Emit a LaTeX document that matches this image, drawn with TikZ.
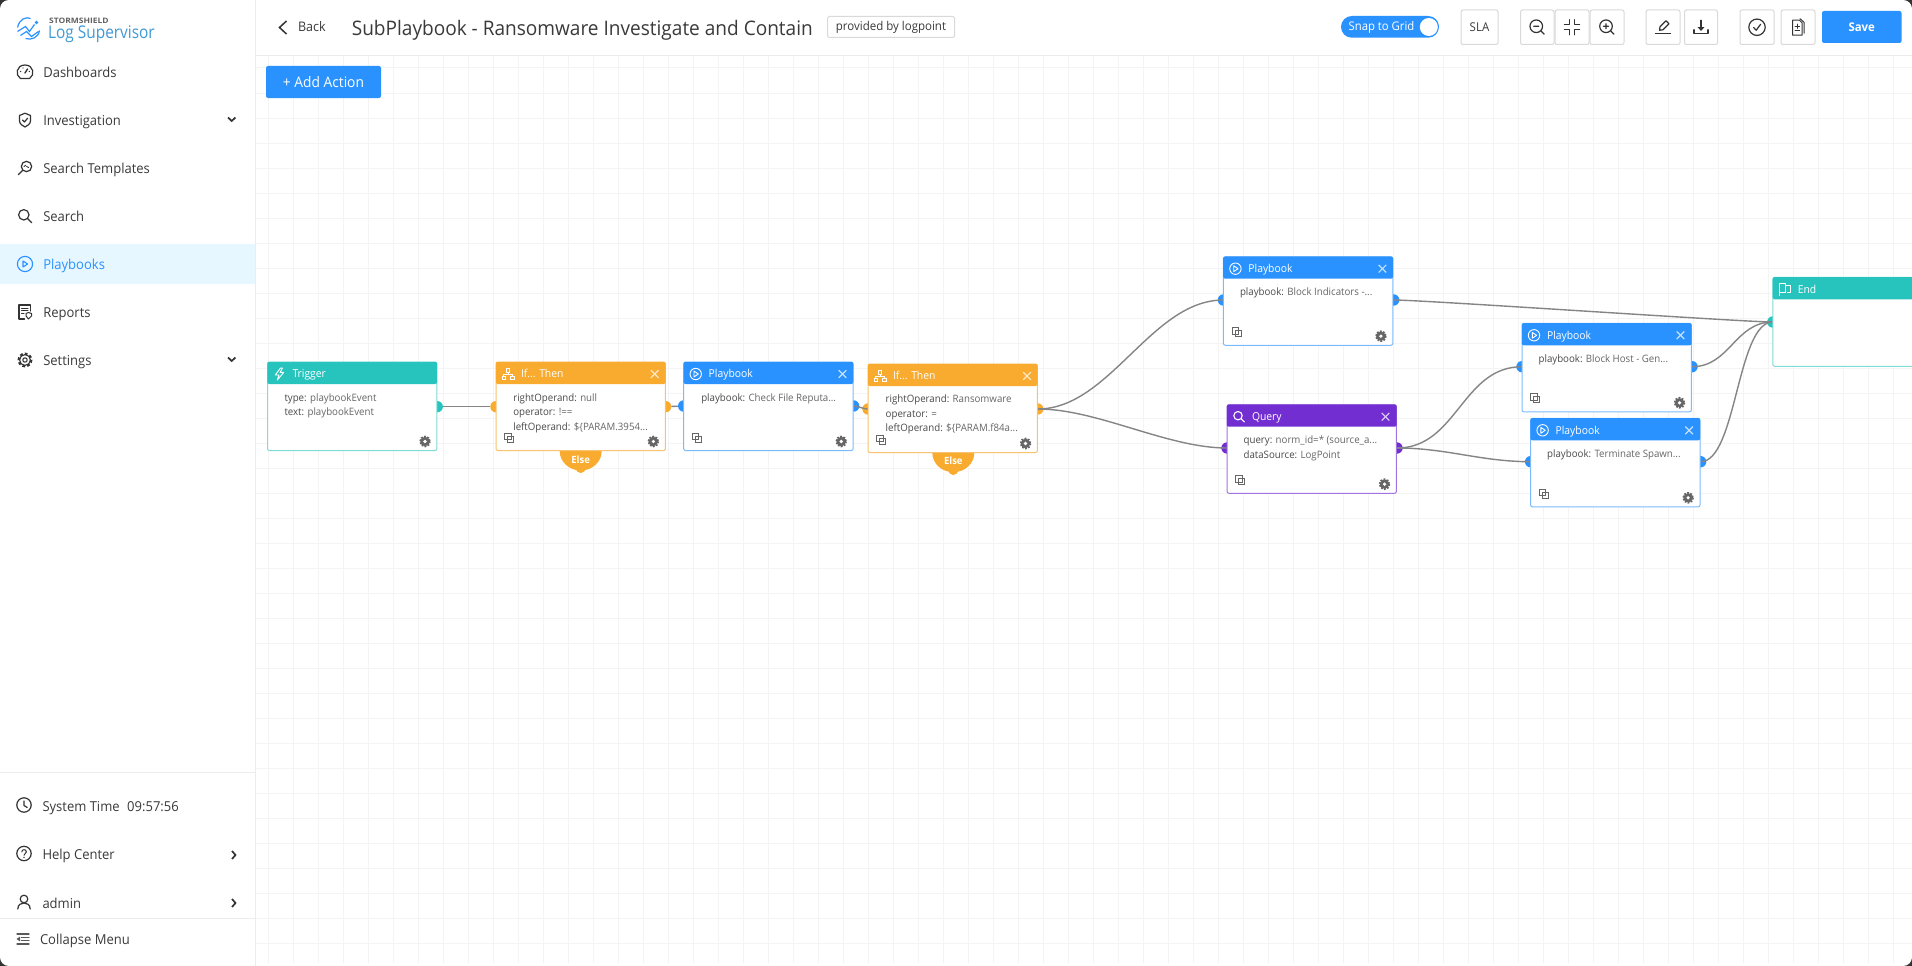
\documentclass[tikz,border=0pt]{standalone}
\usepackage{fontspec}
\setmainfont[FakeStretch=0.95]{Open Sans}
\newfontfamily\logofont[FakeStretch=0.88]{Open Sans}
\newfontfamily\brandfont[FakeStretch=1.13]{Open Sans}
\usetikzlibrary{calc}
\definecolor{cblue}{HTML}{2A92FF}
\definecolor{cblueb}{HTML}{7CBBFB}
\definecolor{cteal}{HTML}{27C4BE}
\definecolor{ctealb}{HTML}{7FDCD6}
\definecolor{corange}{HTML}{F8AB2F}
\definecolor{corangeb}{HTML}{F9C26E}
\definecolor{cpurple}{HTML}{722ED1}
\definecolor{cpurpleb}{HTML}{A274E2}
\definecolor{cgrid}{HTML}{F4F4F4}
\definecolor{cline}{HTML}{ECECEC}
\definecolor{cedge}{HTML}{858585}
\definecolor{ckey}{HTML}{4A4A4A}
\definecolor{cval}{HTML}{666666}
\definecolor{ctext}{HTML}{3A3A3A}
\definecolor{cicon}{HTML}{333333}
\definecolor{cactive}{HTML}{E6F7FF}
\definecolor{cbox}{HTML}{D9D9D9}
\definecolor{clogo}{HTML}{3F9AD6}
\pgfdeclarelayer{gridl}
\pgfdeclarelayer{edgel}
\pgfsetlayers{gridl,edgel,main}
\tikzset{
  txt/.style={anchor=base west,inner sep=0,outer sep=0,yshift=-5pt,text=ctext,font=\fontsize{13.7}{16}\selectfont},
  keyval/.style={anchor=base west,inner sep=0,outer sep=0,yshift=-3.8pt,font=\fontsize{10.2}{12}\selectfont},
  nodebody/.style={draw=#1,fill=white,line width=1,rounded corners=2,minimum width=169.4,minimum height=88.6,anchor=north west,inner sep=0,outer sep=0},
  portn/.style={circle,fill=#1,minimum size=11.4,inner sep=0,outer sep=0},
  edgeline/.style={draw=cedge,line width=1.4},
  ico/.style={line width=1.2,draw=cicon,line cap=round,line join=round},
  toolbox/.style={draw=cbox,fill=white,line width=1,rounded corners=2,inner sep=0,outer sep=0,anchor=north west},
  headtitle/.style={anchor=base west,inner sep=0,outer sep=0,yshift=-4.2pt,text=white,font=\fontsize{10.9}{14}\selectfont},
  elsetxt/.style={inner sep=0,outer sep=0,text=white,font=\fontsize{10}{12}\bfseries\selectfont},
}
\newcommand\gearsmall[2]{\begin{scope}[shift={(#1,#2)}]
  \draw[line width=1.7,dash pattern=on 1.8 off 1.34,draw=cval] (0,0) circle (5);
  \fill[cval] (0,0) circle (4.7); \fill[white] (0,0) circle (1.8);
\end{scope}}
\newcommand\copyicon[2]{\begin{scope}[shift={(#1,#2)}]
  \draw[line width=.8,draw=cval] (-4.5,-4.5) rectangle (2,2);
  \draw[line width=.8,draw=cval] (-1.5,-1.5) rectangle (4.5,4.5);
\end{scope}}
\newcommand\closeicon[2]{\begin{scope}[shift={(#1,#2)}]
  \draw[line width=1.2,white,opacity=.72] (-3.8,-3.8) -- (3.8,3.8) (-3.8,3.8) -- (3.8,-3.8);
\end{scope}}
\newcommand\playicon[4]{\begin{scope}[shift={(#1,#2)}]
  \draw[line width=#4,draw=#3] (0,0) circle (5.7);
  \draw[line width=#4,draw=#3,line join=round] (-1.7,-2.9) -- (2.6,0) -- (-1.7,2.9) -- cycle;
\end{scope}}
\newcommand\ifglyph{\begin{scope}[shift={(12,12)}]
  \draw[white,line width=.9] (-1.9,-5.6) rectangle (1.9,-2) (-6,2) rectangle (-2.2,5.6) (2.2,2) rectangle (6,5.6);
  \draw[white,line width=.9] (0,-2) -- (0,0) (-4.1,2) -- (-4.1,0) -- (4.1,0) -- (4.1,2);
\end{scope}}
\newcommand\trigglyph{\begin{scope}[shift={(12,12)}]
  \draw[white,line width=.9,line join=round] (1,-6) -- (-4.2,1) -- (-0.6,1) -- (-2.2,6) -- (4.2,-1.6) -- (0.6,-1.6) -- (3,-6) -- cycle;
\end{scope}}
\newcommand\queryglyph{\begin{scope}[shift={(12,12)}]
  \draw[white,line width=1.1] (-1,-1) circle (4.2) (2,2) -- (5.5,5.5);
\end{scope}}
\newcommand\flagglyph{\begin{scope}[shift={(12,12)}]
  \draw[white,line width=.9,line join=round] (-5.5,6.5) -- (-5.5,-6) -- (0.5,-6) -- (0.5,3) -- (-5.5,3) (0.5,-3.4) -- (5.5,-3.4) -- (5.5,3) -- (1.8,3);
\end{scope}}
\newcommand\playglyph{\playicon{12}{12}{white}{.9}}
\newcommand\flownode[8]{
  \node[nodebody=#5] (#1) at (#2,#3) {};
  \begin{scope}[shift={(#2,#3)}]
    \fill[#4,rounded corners=2] (-.2,-.2) -- (169.6,-.2) -- (169.6,22) -- (-.2,22) -- cycle;
    #7
    \node[headtitle] (#1title) at (25,11.5) {#6};
    #8
  \end{scope}
}
\newcommand\keyline[4]{\node[keyval] at (#1,#2) {\textcolor{ckey}{#3} \textcolor{cval}{#4}};}
\newcommand\linkcurve[3]{\draw[edgeline] (#1.center) .. controls ($(#1.center)+(#3,0)$) and ($(#2.center)-(#3,0)$) .. (#2.center);}
\begin{document}
\begin{tikzpicture}[x=1pt,y=-1pt]
\useasboundingbox (0,0) rectangle (1912,966);
\begin{pgfonlayer}{gridl}
\fill[white] (0,0) rectangle (1912,966);
\foreach \gx in {268,293,...,1912} {\draw[cgrid,line width=1] (\gx,55) -- (\gx,963);}
\foreach \gy in {68,93,...,963} {\draw[cgrid,line width=1] (255,\gy) -- (1912,\gy);}
\end{pgfonlayer}
% window corners
\fill[cicon] (0,0) -- (8,0) .. controls (3.5,.5) and (.5,3.5) .. (0,8) -- cycle;
\fill[cicon] (1912,0) -- (1904,0) .. controls (1908.5,.5) and (1911.5,3.5) .. (1912,8) -- cycle;
\fill[cicon] (0,966) -- (8,966) .. controls (3.5,965.5) and (.5,962.5) .. (0,958) -- cycle;
\fill[cicon] (1912,966) -- (1904,966) .. controls (1908.5,965.5) and (1911.5,962.5) .. (1912,958) -- cycle;
% sidebar
\fill[cactive] (0,244) rectangle (255,284);
\draw[cline,line width=1] (255.5,0) -- (255.5,966);
\draw[cline,line width=1] (255,55.5) -- (1912,55.5);
\draw[cline,line width=1] (0,772) -- (255,772);
\draw[cline,line width=1] (0,918) -- (255,918);
% logo
\begin{scope}[shift={(28.5,28.5)}]
  \draw[line width=1.2,draw=cblue] (-11,-1) .. controls (-9,-10) and (-2,-12) .. (2,-10);
  \draw[line width=1.2,draw=cblue] (11,2) .. controls (10,9) and (3,12) .. (-3,10);
  \draw[line width=1.2,draw=cblue] (-11,3) -- (-3,-2) -- (1,3) -- (6,-4);
  \draw[line width=1.2,draw=cblue] (-8,7) -- (-2,3) -- (3,8) -- (10,3);
  \fill[cblue] (8,-6) circle (1.8);
\end{scope}
\node[anchor=base west,inner sep=0,text=black!62,font=\fontsize{7.5}{9}\brandfont\bfseries] (brandtop) at (49,24) {STORMSHIELD};
\node[anchor=base west,inner sep=0,text=clogo,font=\fontsize{17.5}{20}\logofont] (brand) at (48,38.3) {Log Supervisor};
% side items
\node[txt] (s1) at (43.3,72.7) {Dashboards};
\node[txt] (s2) at (43.3,120) {Investigation};
\node[txt] (s3) at (43.3,168) {Search Templates};
\node[txt] (s4) at (43.3,216) {Search};
\node[txt,text=cblue] (s5) at (43.3,264) {Playbooks};
\node[txt] (s6) at (43.3,312) {Reports};
\node[txt] (s7) at (43.3,360) {Settings};
\node[txt] (s8) at (42.5,806) {System Time\hspace{.55em}09:57:56};
\node[txt] (s9) at (42.5,854) {Help Center};
\node[txt] (s10) at (42.5,903) {admin};
\node[txt] (s11) at (40,939) {Collapse Menu};
% side icons
\begin{scope}[shift={(25,72)}]
  \draw[ico] (-4.5,6.5) .. controls (-10,3.5) and (-9,-7) .. (0,-7) .. controls (9,-7) and (10,3.5) .. (4.5,6.5) -- cycle;
  \draw[ico,line width=1.4] (0,1) -- (2.5,-3);
  \fill[cicon] (-4.4,-.5) circle (.7) (4.4,-.5) circle (.7) (-2,-4) circle (.7);
\end{scope}
\begin{scope}[shift={(25,120)}]
  \draw[ico] (-5.5,-4.5) -- (0,-6.8) -- (5.5,-4.5) -- (5.5,1) .. controls (5.5,4) and (2,6) .. (0,7) .. controls (-2,6) and (-5.5,4) .. (-5.5,1) -- cycle;
  \draw[ico] (-2.4,0) -- (-.5,2) -- (2.6,-1.8);
\end{scope}
\begin{scope}[shift={(25,168)}]
  \draw[ico] (1.5,-1.5) circle (5.2) (-2.2,2.2) -- (-6.8,6.8);
  \draw[ico,line width=.9] (-1,-1.5) -- (0.8,-2.8) (1.5,-1.5) -- (3.6,-.5);
\end{scope}
\begin{scope}[shift={(25,216)}]
  \draw[ico] (-1.2,-1.2) circle (5.2) (2.6,2.6) -- (6.7,6.7);
\end{scope}
\draw[line width=1.1,draw=cblue] (25,264) circle (7.6);
\draw[line width=1.1,draw=cblue,line join=round] (23,261) -- (27.6,264) -- (23,267) -- cycle;
\begin{scope}[shift={(25,312)}]
  \draw[ico] (5.5,-1) -- (5.5,-7) -- (-6,-7) -- (-6,7) -- (-.5,7);
  \draw[ico,line width=1] (-3.5,-4) -- (3,-4) (-3.5,-1.3) -- (3,-1.3) (-3.5,1.5) -- (-1,1.5);
  \draw[ico,line width=1] (1,1.5) -- (3.5,.5) -- (6.5,1.5) -- (6.5,4) -- (3.5,7) -- (1,4) -- cycle;
\end{scope}
\begin{scope}[shift={(25,360)}]
  \draw[line width=2.2,draw=cicon,dash pattern=on 2.6 off 2.3] (0,0) circle (6.3);
  \draw[line width=1.1,draw=cicon,fill=white] (0,0) circle (5.4);
  \draw[ico,line width=1.1] (0,0) circle (2.2);
\end{scope}
\begin{scope}[shift={(24,805)}]
  \draw[ico] (0,0) circle (7.2) (0,-4) -- (0,.5) -- (3.2,2.5);
\end{scope}
\begin{scope}[shift={(24,853.5)}]
  \draw[ico] (0,0) circle (7.2);
  \draw[ico,line width=1] (-2.2,-1.6) .. controls (-2.2,-4.6) and (2.4,-4.6) .. (2.4,-1.6) .. controls (2.4,-.2) and (0,.2) .. (0,1.8);
  \fill[cicon] (0,3.9) circle (.8);
\end{scope}
\begin{scope}[shift={(24,902)}]
  \draw[ico] (0,-3) circle (3.8);
  \draw[ico] (-6.2,7) .. controls (-6,2.5) and (-3,1) .. (0,1) .. controls (3,1) and (6,2.5) .. (6.2,7);
\end{scope}
\begin{scope}[shift={(23,939)}]
  \draw[ico,line width=1.1,draw=black!65] (-6,-5) -- (6,-5) (-1.5,-1.8) -- (6,-1.8) (-1.5,1.6) -- (6,1.6) (-6,5) -- (6,5);
  \fill[black!65] (-6.5,0) -- (-3,-2.4) -- (-3,2.4) -- cycle;
\end{scope}
% chevrons
\draw[line width=1.7,draw=cicon] (228,117.5) -- (231.7,121) -- (235.4,117.5);
\draw[line width=1.7,draw=cicon] (228,357.5) -- (231.7,361) -- (235.4,357.5);
\draw[line width=1.7,draw=cicon] (232,851) -- (235.5,855) -- (232,859);
\draw[line width=1.7,draw=cicon] (232,899) -- (235.5,903) -- (232,907);
% top bar left
\draw[line width=1.5,draw=cicon] (286.5,21) -- (279.5,27.5) -- (286.5,34);
\node[txt,font=\fontsize{13.2}{15}\selectfont] (backtxt) at (298,27) {Back};
\node[txt,yshift=-2pt,font=\fontsize{20.05}{23}\selectfont] (title) at (351.8,29) {SubPlaybook - Ransomware Investigate and Contain};
\node[toolbox,minimum width=127,minimum height=21] (badge) at (827.5,16.5) {};
\node[inner sep=0,text=ctext,font=\fontsize{12.1}{14}\selectfont] (badgetxt) at (badge.center) {provided by logpoint};
\node[fill=cblue,rounded corners=2,anchor=north west,inner sep=0,outer sep=0,minimum width=115,minimum height=32,text=white,font=\fontsize{14.5}{16}\selectfont] (addaction) at (266,66) {+ Add Action};
% top bar right
\fill[cblue,rounded corners=10.8] (1341,16) rectangle (1439,37.7);
\node[anchor=base west,inner sep=0,text=white,font=\fontsize{11.9}{14}\selectfont] (snaptxt) at (1348.4,31) {Snap to Grid};
\fill[white] (1428.8,27) circle (9);
\node[toolbox,minimum width=37,minimum height=34.5] (sla) at (1461,10) {};
\node[inner sep=0,text=ctext,font=\fontsize{12.1}{14}\selectfont] (slatxt) at (sla.center) {SLA};
\node[toolbox,minimum width=33.5,minimum height=34.5] (zoomout) at (1520.5,10) {};
\node[toolbox,minimum width=34,minimum height=34.5] (fit) at (1555,10) {};
\node[toolbox,minimum width=34,minimum height=34.5] (zoomin) at (1590,10) {};
\node[toolbox,minimum width=34,minimum height=34.5] (edit) at (1646,10) {};
\node[toolbox,minimum width=33,minimum height=34.5] (dl) at (1684.5,10) {};
\node[toolbox,minimum width=34,minimum height=34.5] (chk) at (1740,10) {};
\node[toolbox,minimum width=34,minimum height=34.5] (doc) at (1781,10) {};
\node[fill=cblue,rounded corners=2,anchor=north west,inner sep=0,outer sep=0,minimum width=79.5,minimum height=32,text=white,font=\fontsize{12}{14}\bfseries\selectfont] (save) at (1822,11) {Save};
\begin{scope}[shift={(zoomout.center)}]
  \draw[ico] (-1,-1) circle (6.3) (3.6,3.6) -- (7,7) (-3.6,-1) -- (1.6,-1);
\end{scope}
\begin{scope}[shift={(fit.center)}]
  \draw[ico] (-7.5,-2.5) -- (-2.5,-2.5) -- (-2.5,-7.5) (7.5,-2.5) -- (2.5,-2.5) -- (2.5,-7.5) (-7.5,2.5) -- (-2.5,2.5) -- (-2.5,7.5) (7.5,2.5) -- (2.5,2.5) -- (2.5,7.5);
\end{scope}
\begin{scope}[shift={(zoomin.center)}]
  \draw[ico] (-1,-1) circle (6.3) (3.6,3.6) -- (7,7) (-3.6,-1) -- (1.6,-1) (-1,-3.6) -- (-1,1.6);
\end{scope}
\begin{scope}[shift={(edit.center)}]
  \draw[ico] (-3.5,3) -- (-3,-.5) -- (3,-6.5) -- (6,-3.5) -- (0,2.5) -- cycle;
  \draw[ico] (-7.5,6.5) -- (7.5,6.5);
\end{scope}
\begin{scope}[shift={(dl.center)}]
  \draw[ico] (0,-7) -- (0,2);
  \fill[cicon] (-3.4,0) -- (3.4,0) -- (0,3.6) -- cycle;
  \draw[ico] (-7,2.5) -- (-7,6.5) -- (7,6.5) -- (7,2.5);
\end{scope}
\begin{scope}[shift={(chk.center)}]
  \draw[ico] (0,0) circle (8.2) (-3.4,.2) -- (-.8,3) -- (3.6,-3);
\end{scope}
\begin{scope}[shift={(doc.center)}]
  \draw[ico,line width=1] (-5.5,-7) -- (1.5,-7) -- (4,-4.5) -- (4,8) -- (-5.5,8) -- cycle;
  \draw[ico,line width=1] (2,-8.5) -- (6,-5) -- (6,6);
  \draw[ico,line width=.9] (-3,-1) -- (1.6,-1) (-.7,-3.2) -- (-.7,1.2) (-3,3.2) -- (1.6,3.2);
\end{scope}
% flow nodes
\flownode{trig}{267.5}{362}{cteal}{ctealb}{Trigger}{\trigglyph}{
  \keyline{17}{35.7}{type:}{playbookEvent}
  \keyline{17}{50}{text:}{playbookEvent}
  \gearsmall{157.5}{79.5}}
\flownode{ifa}{496}{362}{corange}{corangeb}{If... Then}{\ifglyph}{
  \keyline{17.3}{35.7}{rightOperand:}{null}
  \keyline{17.3}{50}{operator:}{!==}
  \keyline{17.3}{64.7}{leftOperand:}{\$\{PARAM.3954...}
  \closeicon{158.7}{12}\copyicon{13}{75.7}\gearsmall{157.3}{79.5}}
\flownode{pba}{683.7}{362}{cblue}{cblueb}{Playbook}{\playglyph}{
  \keyline{17.6}{35.7}{playbook:}{Check File Reputa...}
  \closeicon{158.7}{12}\copyicon{13}{75.7}\gearsmall{157.5}{79.5}}
\flownode{ifb}{868}{364}{corange}{corangeb}{If... Then}{\ifglyph}{
  \keyline{17.7}{34.7}{rightOperand:}{Ransomware}
  \keyline{17.7}{50}{operator:}{=}
  \keyline{17.7}{63.7}{leftOperand:}{\$\{PARAM.f84a...}
  \closeicon{159}{12}\copyicon{13}{75.7}\gearsmall{157.5}{79.5}}
\flownode{pbb}{1223.4}{256.7}{cblue}{cblueb}{Playbook}{\playglyph}{
  \keyline{16.6}{35}{playbook:}{Block Indicators -...}
  \closeicon{159}{12}\copyicon{13}{75.6}\gearsmall{157.5}{79.5}}
\flownode{qry}{1227}{404.7}{cpurple}{cpurpleb}{Query}{\queryglyph}{
  \keyline{16.6}{35.3}{query:}{norm\_id=* (source\_a...}
  \keyline{16.6}{50}{dataSource:}{LogPoint}
  \closeicon{158.5}{12}\copyicon{13}{75.3}\gearsmall{157.5}{79.5}}
\flownode{pbc}{1522}{323.3}{cblue}{cblueb}{Playbook}{\playglyph}{
  \keyline{16.6}{35.7}{playbook:}{Block Host - Gen...}
  \closeicon{158.5}{12}\copyicon{13}{75}\gearsmall{157.5}{79.5}}
\flownode{pbd}{1530.6}{418.3}{cblue}{cblueb}{Playbook}{\playglyph}{
  \keyline{16.6}{35.4}{playbook:}{Terminate Spawn...}
  \closeicon{158.5}{12}\copyicon{13}{75.4}\gearsmall{157.5}{79.5}}
\begin{scope}[shift={(1772.8,277.3)}]
  \fill[white] (0,0) rectangle (140,89);
  \draw[ctealb,line width=1,rounded corners=2] (145,0) -- (0,0) -- (0,89) -- (145,89);
  \fill[cteal,rounded corners=2] (-.2,-.2) -- (145,-.2) -- (145,22) -- (-.2,22) -- cycle;
  \flagglyph
  \node[headtitle] (endnode) at (25,11.5) {End};
\end{scope}
% ports and connectors
\begin{pgfonlayer}{edgel}
  \node[portn=cteal] (trigO) at (437.2,406.7) {};
  \node[portn=corange] (ifaI) at (496,406.7) {};
  \node[portn=corange] (ifaO) at (665.6,406.7) {};
  \node[portn=cblue] (pbaI) at (683.7,406) {};
  \node[portn=cblue] (pbaO) at (853.6,406) {};
  \node[portn=corange] (ifbI) at (868,409) {};
  \node[portn=corange] (ifbO) at (1037.7,409) {};
  \node[portn=cblue] (pbbI) at (1223.4,300) {};
  \node[portn=cblue] (pbbO) at (1393.6,300) {};
  \node[portn=cpurple] (qryI) at (1227,448) {};
  \node[portn=cpurple] (qryO) at (1397,448) {};
  \node[portn=cblue] (pbcI) at (1522,366.7) {};
  \node[portn=cblue] (pbcO) at (1692,366.7) {};
  \node[portn=cblue] (pbdI) at (1530.6,461.7) {};
  \node[portn=cblue] (pbdO) at (1700.6,461.7) {};
  \node[portn=cteal] (endI) at (1772.8,322) {};
  \draw[edgeline] (trigO) -- (ifaI);
  \draw[edgeline] (ifaO) -- (pbaI);
  \linkcurve{pbaO}{ifbI}{6}
  \linkcurve{ifbO}{pbbI}{72}
  \linkcurve{ifbO}{qryI}{60}
  \linkcurve{pbbO}{endI}{30}
  \linkcurve{qryO}{pbcI}{60}
  \linkcurve{qryO}{pbdI}{50}
  \linkcurve{pbcO}{endI}{38}
  \linkcurve{pbdO}{endI}{36}
  \fill[corange] (580.7,451) ellipse (21 and 19.5);
  \fill[corange] (580.7,468) circle (5);
  \fill[corange] (953.3,452.7) ellipse (21 and 19.5);
  \fill[corange] (953.3,470) circle (5);
\end{pgfonlayer}
\node[elsetxt] (elsea) at (580.7,460) {Else};
\node[elsetxt] (elseb) at (953.3,461) {Else};
\end{tikzpicture}
\end{document}
